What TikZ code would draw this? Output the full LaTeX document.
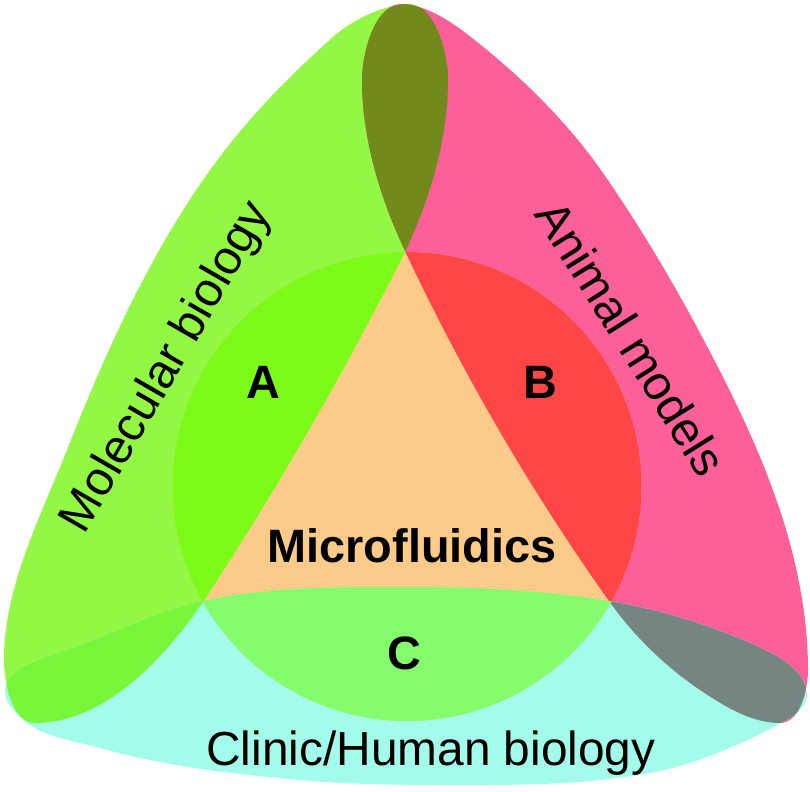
\documentclass[tikz,border=0pt]{standalone}
\usepackage{fontspec}
\setmainfont{Liberation Sans}
\definecolor{molgreen}{RGB}{146,248,67}
\definecolor{anipink}{RGB}{253,95,152}
\definecolor{clicyan}{RGB}{162,252,233}
\definecolor{areaA}{RGB}{124,250,24}
\definecolor{areaB}{RGB}{254,70,70}
\definecolor{areaC}{RGB}{133,252,110}
\definecolor{microfl}{RGB}{252,203,138}
\definecolor{molani}{RGB}{114,138,27}
\definecolor{anicli}{RGB}{118,133,130}
\definecolor{molcli}{RGB}{120,246,58}
\newcommand{\petalMol}{(405bp,-4bp) .. controls (379bp,-7bp) and (352.5bp,-20bp) .. (333bp,-37bp)
  .. controls (297bp,-69bp) and (263bp,-103bp) .. (233bp,-140bp)
  .. controls (160bp,-231bp) and (110bp,-341bp) .. (67bp,-450bp)
  .. controls (40bp,-518bp) and (4bp,-587bp) .. (4bp,-660bp)
  .. controls (4bp,-683bp) and (12bp,-723bp) .. (35bp,-723bp)
  .. controls (104bp,-723bp) and (164bp,-659bp) .. (203bp,-602bp)
  .. controls (277bp,-489bp) and (344bp,-373bp) .. (405bp,-252bp)
  .. controls (430bp,-199bp) and (448bp,-139bp) .. (448bp,-80bp)
  .. controls (448bp,-51bp) and (434bp,-0.5bp) .. cycle}
\newcommand{\petalAni}{(405bp,-4bp) .. controls (436bp,-7.7bp) and (463bp,-30.5bp) .. (487bp,-50bp)
  .. controls (530bp,-85.3bp) and (571bp,-127bp) .. (603bp,-173bp)
  .. controls (638.3bp,-223.8bp) and (670.9bp,-278.4bp) .. (700bp,-333bp)
  .. controls (734.3bp,-397.2bp) and (766.6bp,-463bp) .. (787bp,-533bp)
  .. controls (799.9bp,-577.2bp) and (808bp,-624bp) .. (808bp,-670bp)
  .. controls (808bp,-690bp) and (800bp,-723bp) .. (780bp,-723bp)
  .. controls (751bp,-723bp) and (724bp,-706bp) .. (700bp,-690bp)
  .. controls (665bp,-666.5bp) and (633.3bp,-635.3bp) .. (609bp,-601bp)
  .. controls (530.6bp,-490.4bp) and (462.6bp,-373.6bp) .. (405bp,-251bp)
  .. controls (380bp,-197.6bp) and (362bp,-139bp) .. (362bp,-80bp)
  .. controls (362bp,-51bp) and (376bp,-0.5bp) .. cycle}
\newcommand{\petalCli}{(5bp,-692bp) .. controls (5bp,-667bp) and (43.5bp,-658.3bp) .. (67bp,-650bp)
  .. controls (112.1bp,-634.2bp) and (156.2bp,-611.4bp) .. (203bp,-601bp)
  .. controls (269.4bp,-586.3bp) and (339bp,-587bp) .. (407bp,-587bp)
  .. controls (474.5bp,-587bp) and (542.4bp,-589.8bp) .. (609bp,-601bp)
  .. controls (657.3bp,-609.1bp) and (705.1bp,-623.4bp) .. (750bp,-643bp)
  .. controls (773.5bp,-653.3bp) and (807bp,-669.3bp) .. (807bp,-695bp)
  .. controls (807bp,-706.3bp) and (795bp,-715.7bp) .. (785bp,-721bp)
  .. controls (742.8bp,-743.6bp) and (697.2bp,-764.3bp) .. (650bp,-773bp)
  .. controls (592.5bp,-783.6bp) and (533.5bp,-785bp) .. (475bp,-785bp)
  .. controls (416.7bp,-785bp) and (358.1bp,-785.2bp) .. (300bp,-780bp)
  .. controls (232.8bp,-773.9bp) and (164.9bp,-766.4bp) .. (100bp,-748bp)
  .. controls (72.5bp,-740.2bp) and (40bp,-737bp) .. (20bp,-717bp)
  .. controls (13.2bp,-710.2bp) and (5bp,-701.7bp) .. cycle}
\newcommand{\hub}{(407bp,-486.5bp) circle (234.5bp)}
\tikzset{
  lbl/.style={anchor=base, font=\fontsize{23.5}{28}\selectfont\bfseries},
  field/.style={anchor=base, font=\fontsize{24}{28}\selectfont}
}
\begin{document}
\begin{tikzpicture}[scale=.5]
\useasboundingbox (0bp,0bp) rectangle (810bp,-792bp);
\fill[molgreen] \petalMol;
\fill[anipink] \petalAni;
\fill[clicyan] \petalCli;
\begin{scope}
\clip \petalMol;
\fill[molani] \petalAni;
\fill[molcli] \petalCli;
\end{scope}
\begin{scope}
\clip \petalAni;
\fill[anicli] \petalCli;
\end{scope}
\begin{scope}
\clip \hub;
\fill[microfl] \hub;
\fill[areaA] \petalMol;
\fill[areaB] \petalAni;
\fill[areaC] \petalCli;
\end{scope}
\node (A) at (263bp,-398bp)[lbl] {A};
\node (B) at (540bp,-398bp)[lbl] {B};
\node (C) at (404bp,-669bp)[lbl] {C};
\node (Mf) at (412bp,-562bp)[lbl] {Microfluidics};
\node (Mol) at (178bp,-374bp)[field,rotate=60] {Molecular biology};
\node (Ani) at (617bp,-347bp)[field,rotate=-58] {Animal models};
\node (Cli) at (431bp,-765bp)[field] {Clinic/Human biology};
\end{tikzpicture}
\end{document}
